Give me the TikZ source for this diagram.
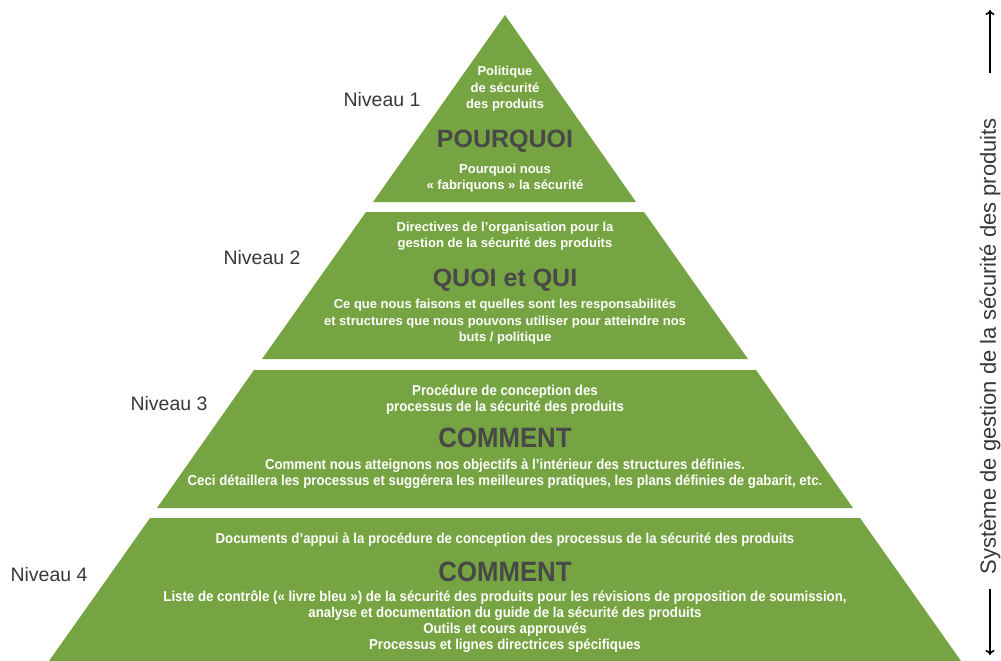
\documentclass[tikz,border=0pt]{standalone}
\usepackage{fontspec}
\setmainfont{Liberation Sans}
\newfontfamily\narrowsf[FakeStretch=0.92]{Liberation Sans}
\usetikzlibrary{arrows.meta}
\definecolor{pyrgreen}{HTML}{77A442}
\definecolor{titlegray}{HTML}{484848}

\begin{document}
\begin{tikzpicture}[x=1pt,y=-1pt,
	layer/.style={fill=pyrgreen},
	info/.style={text=white,font=\bfseries\fontsize{13}{16.5}\selectfont,align=center,inner sep=0pt},
	infonarrow/.style={info,font=\narrowsf\bfseries\fontsize{14.4}{16}\selectfont},
	heading/.style={text=titlegray,font=\bfseries\fontsize{25}{28}\selectfont,inner sep=0pt},
	headnarrow/.style={heading,font=\narrowsf\bfseries\fontsize{28}{30}\selectfont},
	levellabel/.style={text=black!78,font=\fontsize{19.5}{22}\selectfont,inner sep=0pt},
	sidearrow/.style={line width=1.6pt,-{To[length=5pt,width=9pt]}}]
	\useasboundingbox (0,0) rectangle (1001,661);
	
	% Pyramid layers
	\fill[layer] (505,15) -- (636,202) -- (373,202) -- cycle;
	\fill[layer] (366,212) -- (644,212) -- (748,359) -- (262,359) -- cycle;
	\fill[layer] (254,370) -- (756,370) -- (853,508) -- (157,508) -- cycle;
	\fill[layer] (150,518) -- (860,518) -- (961,661) -- (49,661) -- cycle;
	
	% Level 1
	\node[info] (pol) at (505,89) {Politique\\de sécurité\\des produits};
	\node[heading] (why) at (505,141) {POURQUOI};
	\node[info] (whynote) at (505,178) {Pourquoi nous\\« fabriquons » la sécurité};
	
	% Level 2
	\node[info] (dir) at (505,236) {Directives de l’organisation pour la\\gestion de la sécurité des produits};
	\node[heading] (what) at (505,280) {QUOI et QUI};
	\node[info] (whatnote) at (505,322) {Ce que nous faisons et quelles sont les responsabilités\\et structures que nous pouvons utiliser pour atteindre nos\\buts / politique};
	
	% Level 3
	\node[infonarrow] (proc) at (505,400) {Procédure de conception des\\processus de la sécurité des produits};
	\node[headnarrow] (howA) at (505,438) {COMMENT};
	\node[infonarrow] (howAnote) at (505,474) {Comment nous atteignons nos objectifs à l’intérieur des structures définies.\\Ceci détaillera les processus et suggérera les meilleures pratiques, les plans définies de gabarit, etc.};
	
	% Level 4
	\node[infonarrow] (docs) at (505,540) {Documents d’appui à la procédure de conception des processus de la sécurité des produits};
	\node[headnarrow] (howB) at (505,572) {COMMENT};
	\node[infonarrow] (howBnote) at (505,622) {Liste de contrôle (« livre bleu ») de la sécurité des produits pour les révisions de proposition de soumission,\\analyse et documentation du guide de la sécurité des produits\\Outils et cours approuvés\\Processus et lignes directrices spécifiques};
	
	% Labels
	\node[levellabel] (nivA) at (382,100) {Niveau 1};
	\node[levellabel] (nivB) at (262,258) {Niveau 2};
	\node[levellabel] (nivC) at (169,404) {Niveau 3};
	\node[levellabel] (nivD) at (49,575) {Niveau 4};
	
	% System arrow
	\node[levellabel,font=\fontsize{22}{24}\selectfont,rotate=90] (sys) at (990,346) {Système de gestion de la sécurité des produits};
	\coordinate (top) at (990,10);
	\coordinate (bot) at (990,655);
	\draw[sidearrow,shorten <=45pt] (sys.east) -- (top);
	\draw[sidearrow,shorten <=15pt] (sys.west) -- (bot);
	
\end{tikzpicture}
\end{document}
